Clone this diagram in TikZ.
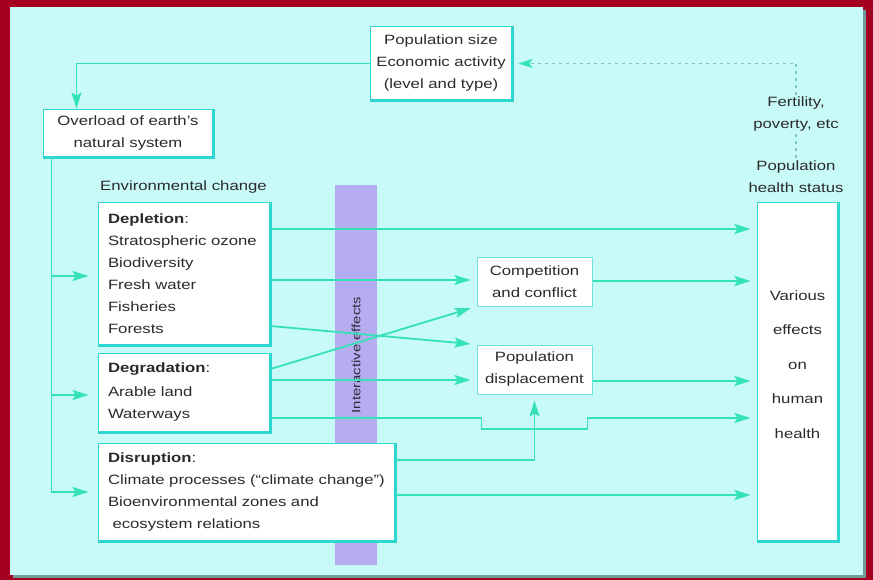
\documentclass[tikz,border=0pt]{standalone}
\usepackage{fontspec}
\setmainfont[FakeStretch=1.24]{Liberation Sans}
\usetikzlibrary{arrows.meta,calc}
\definecolor{outerred}{HTML}{A5001F}
\definecolor{panel}{HTML}{C8FAF8}
\definecolor{panelsh}{HTML}{6F9C98}
\definecolor{boxc}{HTML}{2ED6D0}
\definecolor{linec}{HTML}{34E2B6}
\definecolor{dashc}{HTML}{7CC9B6}
\definecolor{purp}{HTML}{B6ACF0}
\definecolor{txt}{HTML}{2B2B2B}
\begin{document}
\begin{tikzpicture}[x=1pt,y=-1pt,
  every node/.style={font=\fontsize{13.5}{22}\selectfont, text=txt},
  box/.style={draw=boxc, line width=1pt, fill=white, inner ysep=0pt},
  lbox/.style={box, align=left, inner xsep=10pt},
  cbox/.style={box, align=center, inner xsep=0pt},
  plain/.style={align=center, inner sep=0pt},
  shad/.style={draw=boxc, line width=3.5pt},
  ln/.style={draw=linec, line width=1.8pt},
  arr/.style={ln, -{Stealth[length=16pt,width=10pt,inset=3pt]}, shorten >=6pt},
  dsh/.style={draw=dashc, line width=1.1pt, dash pattern=on 3pt off 4pt},
  dsharr/.style={dsh, -{Stealth[length=14pt,width=9pt,inset=3pt,fill=linec,color=linec]}, shorten >=6pt}
]
% background
\fill[outerred] (0,0) rectangle (873,580);
\fill[panelsh] (13,10) rectangle (866,578);
\fill[panel] (10,7) rectangle (863,575);
\useasboundingbox (0,0) rectangle (873,580);

% interactive effects strip
\fill[purp] (335,185) rectangle (377,565);
\node[rotate=90, font=\fontsize{12}{14}\selectfont, text=black!75!purp] (ie) at (356,355) {Interactive effects};

% nodes
\node[cbox, minimum width=142pt, minimum height=73pt] (top) at (441,63.5)
  {Population size\\Economic activity\\(level and type)};
\node[cbox, minimum width=170pt, minimum height=47pt] (over) at (128,133.5)
  {Overload of earth's\\natural system};
\node[plain, anchor=west] (envc) at (100,187) {Environmental change};
\node[lbox, text width=152pt, minimum height=142pt] (depl) at (184,274)
  {\textbf{Depletion}:\\Stratospheric ozone\\Biodiversity\\Fresh water\\Fisheries\\Forests};
\node[lbox, text width=152pt, minimum height=79pt] (degr) at (184,392.5)
  {\textbf{Degradation}:\\[2pt]Arable land\\Waterways};
\node[lbox, text width=277pt, minimum height=98pt] (disr) at (246.5,492)
  {\textbf{Disruption}:\\Climate processes (“climate change”)\\Bioenvironmental zones and\\\ ecosystem relations};
\node[cbox, minimum width=115pt, minimum height=48pt, draw=boxc!70] (comp) at (534.5,282)
  {Competition\\and conflict};
\node[cbox, minimum width=115pt, minimum height=49pt, draw=boxc!70] (disp) at (534.5,369.5)
  {Population\\displacement};
\node[box, minimum width=81pt, minimum height=338pt, inner sep=0pt] (vari) at (797.5,372) {};
\node[plain, font=\fontsize{13.5}{34.5}\selectfont] (vtext) at (vari.center |- 0,364.5)
  {Various\\effects\\on\\human\\health};
\node[plain] (fert) at (796,114.5) {Fertility,\\poverty, etc};
\node[plain] (phs) at (796,177) {Population\\health status};

% box shadows
\foreach \n in {top,over,depl,degr,disr,vari}
  \draw[shad] (\n.north east) -- (\n.south east) -- (\n.south west);

% connectors
\draw[arr, shorten >=1pt] (top.west) -| ([xshift=34pt]over.north west);
\coordinate (trunk) at ([xshift=9pt]over.south west);
\draw[ln] (trunk) -- (trunk |- 0,476);
\draw[arr, shorten >=9pt] (trunk) |- (disr.west |- 0,492);
\draw[arr, shorten >=9pt] (trunk |- 0,276) -- (depl.west |- 0,276);
\draw[arr, shorten >=9pt] (trunk |- 0,395) -- (degr.west |- 0,395);

\draw[arr] (depl.east |- 0,229) -- (vari.west |- 0,229);
\draw[arr] (depl.east |- 0,280) -- (comp.west |- 0,280);
\draw[arr] (depl.east |- 0,326) -- (disp.north west);
\draw[arr] (degr.east |- 0,369) -- (comp.south west);
\draw[arr] (degr.east |- 0,380) -- (disp.west |- 0,380);
\draw[arr] (degr.east |- 0,418) -- ([xshift=5pt]disp.west |- 0,418)
  -- ([xshift=5pt]disp.west |- 0,429) -- ([xshift=-5pt]disp.east |- 0,429)
  -- ([xshift=-5pt]disp.east |- 0,418) -- (vari.west |- 0,418);
\draw[arr] (disr.east |- 0,460) -| (disp.south);
\draw[arr] (disr.east |- 0,495) -- (vari.west |- 0,495);
\draw[arr] (comp.east |- 0,281) -- (vari.west |- 0,281);
\draw[arr] (disp.east |- 0,381) -- (vari.west |- 0,381);

% dashed feedback
\draw[dsharr] ([yshift=2pt]fert.north) |- (top.east);
\draw[dsh] ([yshift=-2pt]fert.south) -- (fert.south |- phs.north);
\end{tikzpicture}
\end{document}
